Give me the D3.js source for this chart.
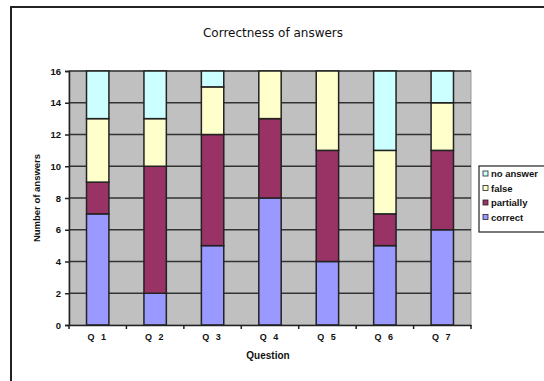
<!DOCTYPE html>
<html><head><meta charset="utf-8">
<script src="https://cdn.jsdelivr.net/npm/d3@7"></script>
<style>body{margin:0;background:#fff}svg{display:block;font-family:"Liberation Sans",Arial,sans-serif}</style>
</head><body>
<svg id="c" width="544" height="381"></svg>
<script>
const categories = ["Q 1","Q 2","Q 3","Q 4","Q 5","Q 6","Q 7"];
const seriesNames = ["correct","partially","false","no answer"];
const correct   = [7,2,5,8,4,5,6];
const partially = [2,8,7,5,7,2,5];
const falseAns  = [4,3,3,3,5,4,3];
const noAnswer  = [3,3,1,0,0,5,2];
const yTicks = [0,2,4,6,8,10,12,14,16];
const colors = ["#9999ff","#993366","#ffffcc","#ccffff"];

const svg = d3.select("#c");
svg.append("rect").attr("x",11).attr("y",7).attr("width",560).attr("height",400)
  .attr("fill","#fff").attr("stroke","#222").attr("stroke-width",2);

const L=69,R=471,T=71,B=325;
const x = d3.scaleBand().domain(categories).range([L,R]).paddingInner(0.61).paddingOuter(0.305);
const y = d3.scaleLinear().domain([0,16]).range([B,T]);

svg.append("rect").attr("x",L).attr("y",T).attr("width",R-L).attr("height",B-T).attr("fill","#c0c0c0")
  .attr("stroke","#999").attr("stroke-width",1);

svg.append("g").selectAll("line").data(yTicks.filter(d=>d>0)).join("line")
  .attr("x1",L).attr("x2",R).attr("y1",d=>y(d)).attr("y2",d=>y(d))
  .attr("stroke","#333").attr("stroke-width",1.6);

const rows = categories.map((c,i)=>({cat:c,"correct":correct[i],"partially":partially[i],"false":falseAns[i],"no answer":noAnswer[i]}));
const stack = d3.stack().keys(seriesNames)(rows);
svg.append("g").selectAll("g").data(stack).join("g").attr("fill",(d,i)=>colors[i])
  .selectAll("rect").data(d=>d.filter(s=>s[1]>s[0])).join("rect")
  .attr("x",d=>x(d.data.cat)).attr("width",x.bandwidth())
  .attr("y",d=>y(d[1])).attr("height",d=>y(d[0])-y(d[1]))
  .attr("stroke","#222").attr("stroke-width",1.5);

const ya = svg.append("g").attr("transform",`translate(${L},0)`)
  .call(d3.axisLeft(y).tickValues(yTicks).tickSize(4).tickPadding(4));
ya.select(".domain").attr("stroke","#222").attr("stroke-width",1.5);
ya.selectAll(".tick line").attr("stroke","#222").attr("stroke-width",1.5);
ya.selectAll("text").attr("font-size",9.5).attr("font-weight","bold").attr("fill","#111");

const xa = svg.append("g").attr("transform",`translate(0,${B})`)
  .call(d3.axisBottom(x).tickSize(0).tickPadding(9));
xa.select(".domain").attr("stroke","#222").attr("stroke-width",1.5);
xa.selectAll("text").attr("font-size",9).attr("font-weight","bold").attr("letter-spacing","2px").attr("fill","#111");
svg.append("g").selectAll("line").data(d3.range(categories.length+1)).join("line")
  .attr("x1",i=>L+i*(R-L)/categories.length).attr("x2",i=>L+i*(R-L)/categories.length)
  .attr("y1",B).attr("y2",B+4).attr("stroke","#222").attr("stroke-width",1.5);

svg.append("text").attr("x",273).attr("y",37).attr("text-anchor","middle").attr("font-family","DejaVu Sans").attr("font-size",12).attr("fill","#111").text("Correctness of answers");
svg.append("text").attr("x",268).attr("y",359).attr("text-anchor","middle").attr("font-size",10).attr("font-weight","bold").attr("fill","#111").text("Question");
svg.append("text").attr("transform",`translate(40,${(T+B)/2}) rotate(-90)`).attr("text-anchor","middle").attr("font-size",9.5).attr("font-weight","bold").attr("fill","#111").text("Number of answers");

const lg = svg.append("g");
lg.append("rect").attr("x",479).attr("y",166).attr("width",80).attr("height",66).attr("fill","#fff").attr("stroke","#222").attr("stroke-width",1.2);
const legItems = seriesNames.map((n,i)=>({n,c:colors[i]})).reverse();
const li = lg.selectAll("g.it").data(legItems).join("g").attr("transform",(d,i)=>`translate(483,${175+i*14.5})`);
li.append("rect").attr("x",0).attr("y",-4).attr("width",5).attr("height",5).attr("fill",d=>d.c).attr("stroke","#222").attr("stroke-width",0.8);
li.append("text").attr("x",8).attr("y",2).attr("font-size",9.5).attr("font-weight","bold").attr("fill","#111").text(d=>d.n);
</script>
</body></html>
